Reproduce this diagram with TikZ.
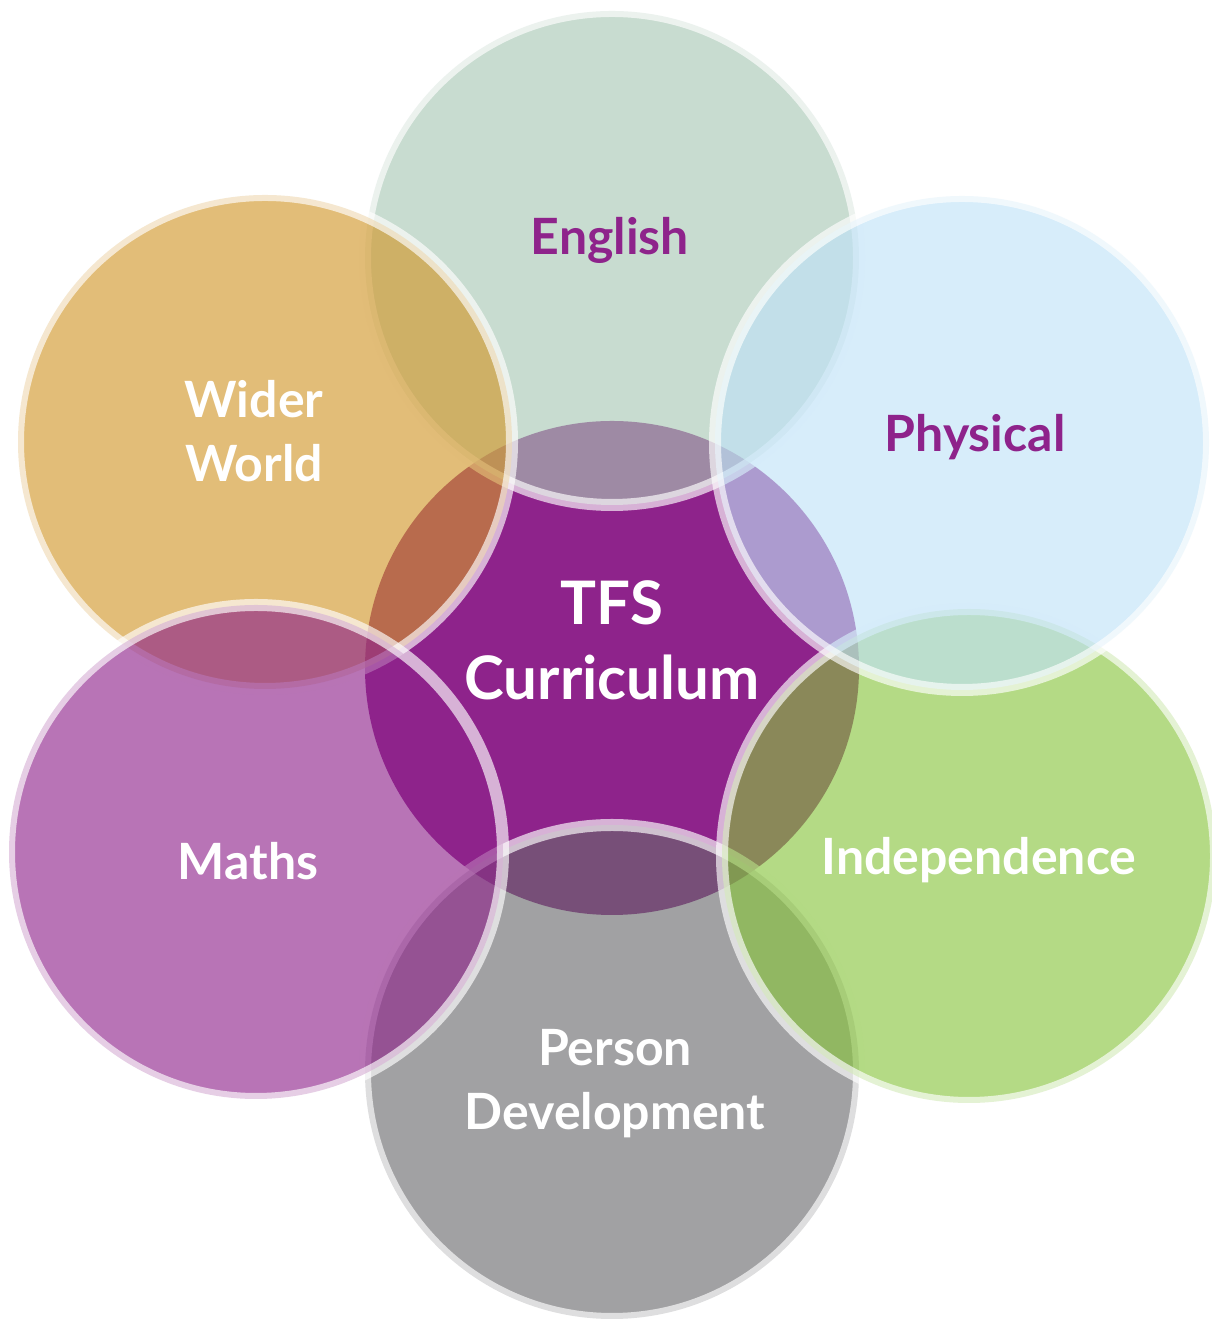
\documentclass[tikz,border=0pt]{standalone}
\usepackage{fontspec}
\setmainfont{Lato}
\usepackage{tikz}

\definecolor{tfspurple}{HTML}{8E238B}
\definecolor{englishgreen}{HTML}{A8C7B4}
\definecolor{widergold}{HTML}{D19629}
\definecolor{physblue}{HTML}{BFE2F7}
\definecolor{indepgreen}{HTML}{88C43D}
\definecolor{persongrey}{HTML}{6A6A6D}

\begin{document}
\begin{tikzpicture}[x=1pt, y=1pt,
    petal/.style={draw=white, draw opacity=0.65, line width=12pt, fill opacity=0.63},
    petaltext/.style={font=\fontsize{50}{64}\selectfont\bfseries, align=center, anchor=base, inner sep=0pt},
    hubtext/.style={font=\fontsize{60}{75}\selectfont\bfseries, text=white, align=center, anchor=base, inner sep=0pt}]

\useasboundingbox (0,0) rectangle (1211,1321);

% Centre circle
\fill[tfspurple] (612,653) circle[radius=247pt];

% Outer circles (order matters for the overlaps)
\draw[petal, fill=englishgreen] (612,1063) circle[radius=247pt];  % English
\draw[petal, fill=widergold] (265,879) circle[radius=247pt];      % Wider World
\draw[petal, fill=persongrey] (612,249) circle[radius=247pt];     % Person Development
\draw[petal, fill=tfspurple] (256,469) circle[radius=247pt];      % Maths
\draw[petal, fill=indepgreen] (969,465) circle[radius=247pt];     % Independence
\draw[petal, fill=physblue] (962,878) circle[radius=247pt];       % Physical

% Labels (two-line nodes sit on the baseline of their last line)
\node[hubtext] (tfs) at (612,621) {TFS\\Curriculum};
\node[petaltext, text=tfspurple] (english) at (610,1066) {English};
\node[petaltext, text=white] (wider) at (254,839) {Wider\\World};
\node[petaltext, text=tfspurple] (physical) at (975,869) {Physical};
\node[petaltext, text=white] (maths) at (248,441) {Maths};
\node[petaltext, text=white] (indep) at (979,446) {Independence};
\node[petaltext, text=white] (person) at (615,191) {Person\\Development};

\end{tikzpicture}
\end{document}
